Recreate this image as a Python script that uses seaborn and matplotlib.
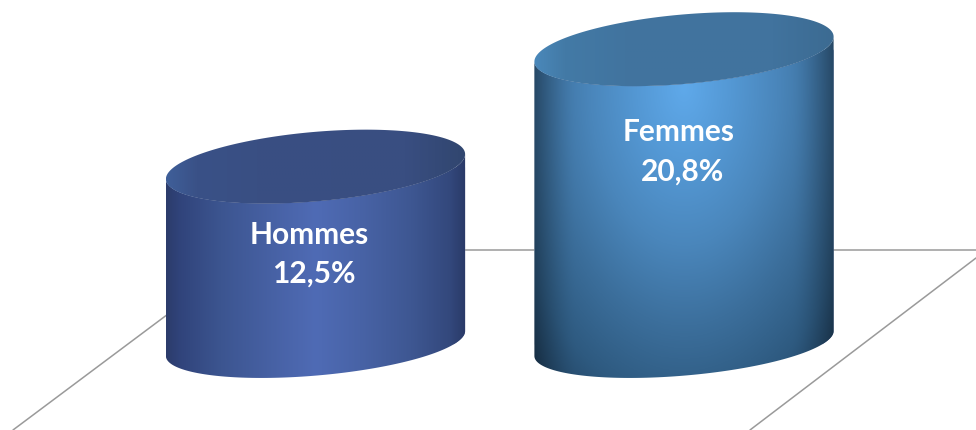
#!/usr/bin/env python3
"""Two 3D-looking cylinders, drawn over a seaborn barplot."""

import matplotlib

matplotlib.use("Agg")
import matplotlib.pyplot as plt
import numpy as np
import pandas as pd
import seaborn as sns
from matplotlib.colors import LinearSegmentedColormap
from matplotlib.patches import Polygon

categories = ["Hommes", "Femmes"]
values = [12.5, 20.8]

W, H = 976, 430
PX_PER_UNIT = 14.15   # vertical scale
PX_PER_CAT = 368.5    # distance between the two bars
FIRST_CAT_PX = 315.5
BASE_PX = 343.5       # picture row of value 0
BAR_WIDTH = 0.812
CAP_B = 2.46          # cap half-height, value units
FOOT_B = 2.27         # same for the rounded foot, a bit flatter
CAP_LIFT = 0.88       # tilt of the caps, value units

SIDE_MEN = [(0, "#2c3c6b"), (0.04, "#30437a"), (0.18, "#3c5590"), (0.35, "#4761a4"),
            (0.5, "#4f6bb5"), (0.65, "#4863a6"), (0.82, "#3e5792"), (0.95, "#33487c"),
            (1, "#2a3a68")]
CAP_MEN = [(0, "#3f5f99"), (0.1, "#3a5187"), (0.3, "#394f83"), (0.8, "#394e81"), (1, "#31466f")]
RADIAL_WOMEN = ["#5fa9ea", "#5498d4", "#4a86bb", "#3c6f9c", "#2e5a80", "#1d3b57"]
CAP_WOMEN = [(0, "#4a88ba"), (0.1, "#437aa6"), (0.3, "#41749f"), (0.8, "#41739e"), (1, "#3c6b92")]
LABEL_DROP_PX = [[68, 107], [83, 122]]
LABEL_SHIFT_PX = [[-6, -2], [-5, -1]]


def cap_curve(cx, half, level, t, b=CAP_B):
    return np.column_stack([cx + half * np.cos(t),
                            level + CAP_LIFT * np.cos(t) + b * np.sin(t)])


def add_image(ax, rgb, extent, clip):
    im = ax.imshow(rgb, extent=extent, aspect="auto", interpolation="bilinear", zorder=3)
    im.set_clip_path(clip)
    return im


def main():
    sns.set_theme(style="white")
    plt.rcParams["font.family"] = ["Lato", "DejaVu Sans"]

    fig = plt.figure(figsize=(W / 100, H / 100), dpi=100, facecolor="white")
    ax = fig.add_axes([0, 0, 1, 1])
    df = pd.DataFrame({"sexe": categories, "taux": values})
    sns.barplot(data=df, x="sexe", y="taux", width=BAR_WIDTH, color="#3e5793", ax=ax, zorder=2)

    xlim = (-FIRST_CAT_PX / PX_PER_CAT, (W - FIRST_CAT_PX) / PX_PER_CAT)
    ylim = ((BASE_PX - H) / PX_PER_UNIT, BASE_PX / PX_PER_UNIT)

    # floor of the 3D scene
    grid = {"color": "#9a9a9a", "lw": 1.1, "transform": ax.transAxes, "zorder": 1}
    ax.plot([0.25, 1], [1 - 249.5 / H] * 2, **grid)
    ax.plot([13 / W, 255 / W], [0, 1 - 249 / H], **grid)
    ax.plot([750 / W, 1], [0, 1 - 258 / H], **grid)

    maps = [
        (LinearSegmentedColormap.from_list("m_side", SIDE_MEN),
         LinearSegmentedColormap.from_list("m_cap", CAP_MEN)),
        (LinearSegmentedColormap.from_list("f_side", RADIAL_WOMEN),
         LinearSegmentedColormap.from_list("f_cap", CAP_WOMEN)),
    ]
    for i, bar in enumerate(ax.patches):
        x0, width, val = bar.get_x(), bar.get_width(), bar.get_height()
        cx, half = x0 + width / 2, width / 2
        front = np.linspace(np.pi, 2 * np.pi, 120)
        body = np.vstack([cap_curve(cx, half, val, front),
                          cap_curve(cx, half, 0, front[::-1], FOOT_B)])
        side_clip = Polygon(body, closed=True, transform=ax.transData, fc="none", ec="none")
        bar.set_clip_path(side_clip)

        ybot, ytop = -CAP_B - CAP_LIFT, val + CAP_B
        xs = np.linspace(-1, 1, 400)
        ys = np.linspace(ytop, ybot, 400)
        u, y = np.meshgrid(xs, ys)
        side_map, cap_map = maps[i]
        if i == 0:
            rgb = side_map((u + 1) / 2)[..., :3]
        else:
            yc = val - CAP_B - 0.2
            r = np.sqrt((u / 1.25) ** 2 + ((y - yc) / 22.5) ** 2)
            rgb = side_map(np.clip(r / 1.25, 0, 1))[..., :3]
            edge = 1 - 0.32 * np.clip((np.abs(u) - 0.72) / 0.28, 0, 1) ** 1.6
            rgb = rgb * edge[..., None]
        add_image(ax, rgb, (x0, x0 + width, ybot, ytop), side_clip)

        t = np.linspace(0, 2 * np.pi, 240)
        cap_clip = Polygon(cap_curve(cx, half, val, t), closed=True,
                           transform=ax.transData, fc="none", ec="none")
        cap_rgb = cap_map((xs[None, :] + 1) / 2)[..., :3]
        add_image(ax, cap_rgb, (x0, x0 + width, val - CAP_B - CAP_LIFT, val + CAP_B + CAP_LIFT),
                  cap_clip)

        pct = f"{val:.1f}".replace(".", ",") + "%"
        for text, drop, shift in zip([categories[i], pct], LABEL_DROP_PX[i], LABEL_SHIFT_PX[i]):
            ax.text(cx + shift / PX_PER_CAT, val - drop / PX_PER_UNIT, text, color="white",
                    fontsize=21.5, fontweight="bold", ha="center", va="center", zorder=5)

    ax.set_xlim(*xlim)
    ax.set_ylim(*ylim)
    ax.axis("off")
    fig.savefig("out.png", dpi=100, facecolor="white")


if __name__ == "__main__":
    main()
